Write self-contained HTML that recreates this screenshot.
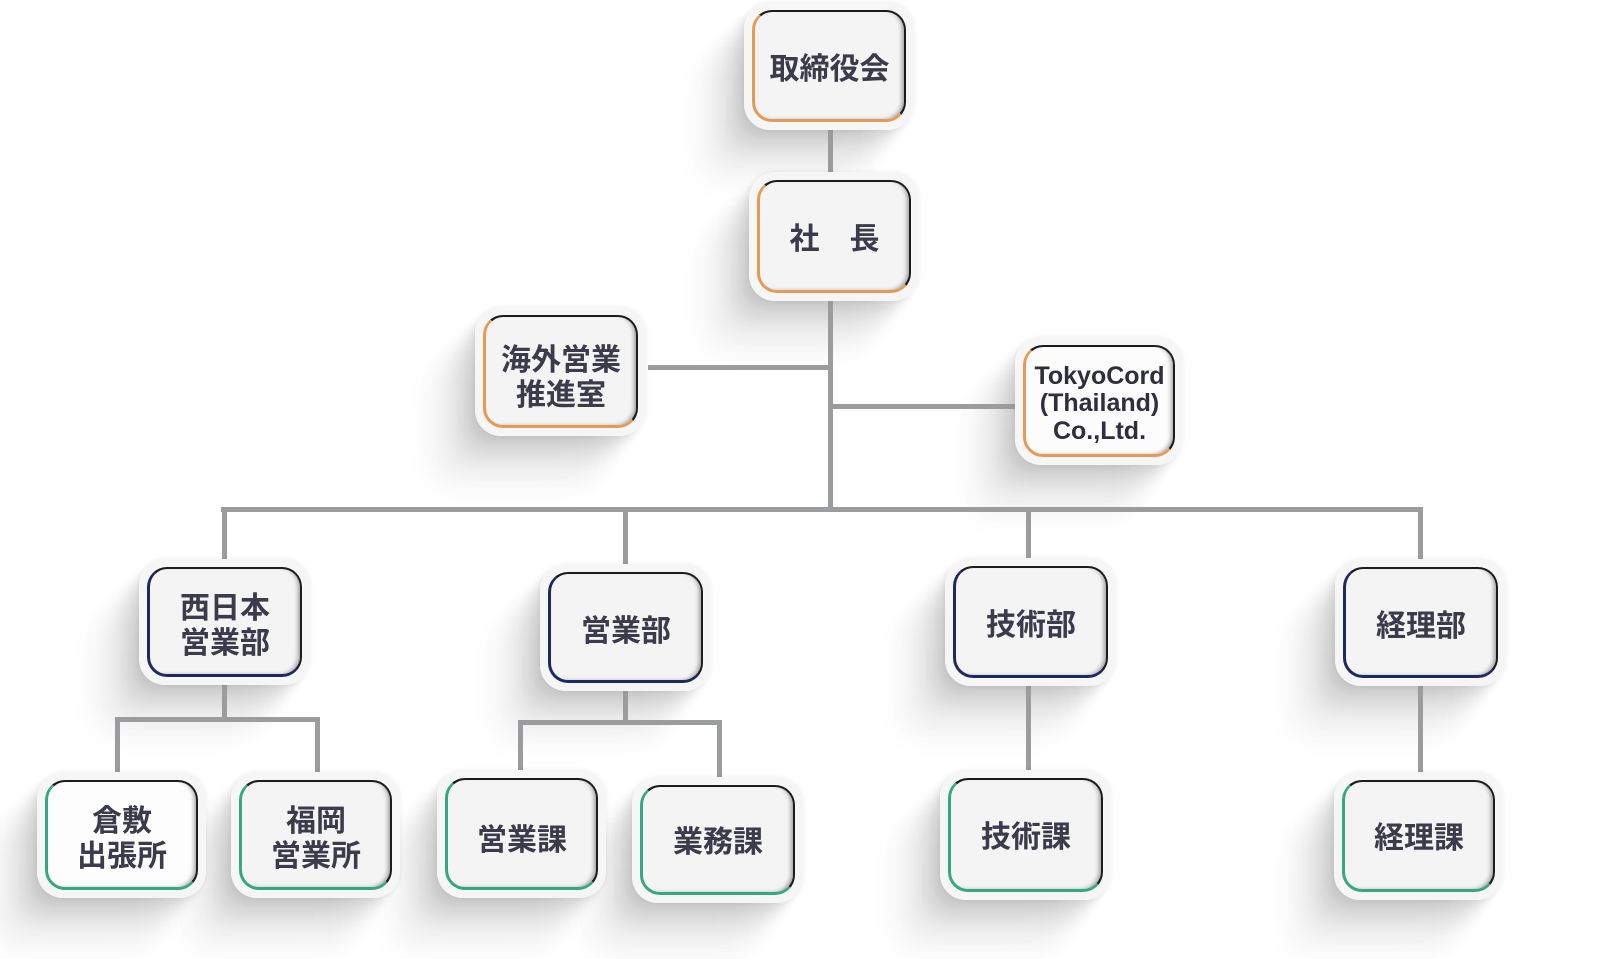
<!DOCTYPE html>
<html><head><meta charset="utf-8">
<style>
html,body{margin:0;padding:0;background:#fff;}
body{width:1599px;height:959px;position:relative;overflow:hidden;font-family:"Liberation Sans","Noto Sans CJK JP",sans-serif;}
.sh{position:absolute;border-radius:26px;background:transparent;z-index:0;
 box-shadow:-6px 7px 8px rgba(0,0,0,.05),-13px 15px 12px rgba(0,0,0,.045),-21px 24px 16px rgba(0,0,0,.04),-30px 34px 20px rgba(0,0,0,.035),-40px 46px 24px rgba(0,0,0,.03),-52px 58px 28px rgba(0,0,0,.022);}
.o{position:absolute;border-radius:26px;background:#f6f6f6;z-index:2;box-shadow:0 0 5px rgba(0,0,0,.07);}
.i{position:absolute;left:8px;top:8px;right:8px;bottom:8px;box-sizing:border-box;border-radius:20px;background:#f4f4f4;border:3px solid;border-top-width:2.5px;border-right-width:2.5px;
 display:flex;align-items:center;justify-content:center;text-align:center;color:#3b3b4b;font-weight:700;font-size:30px;line-height:35px;
 box-shadow:inset -4px -1px 4px -2px rgba(0,0,0,.35);padding-top:2px;}
.or{border-color:#1c1c1c #1c1c1c #e79a55 #e79a55;}
.nv{border-color:#1c1c1c #1c1c1c #1f2960 #1f2960;}
.tl{border-color:#1c1c1c #1c1c1c #35a784 #35a784;}
.l{position:absolute;background:#9a9c9d;z-index:1;}
.t{font-family:"Noto Sans CJK JP","Liberation Sans",sans-serif;}
</style></head><body>

<!-- connectors -->
<div class="l" style="left:828px;top:126px;width:5px;height:52px"></div>
<div class="l" style="left:828px;top:296px;width:5px;height:216px"></div>
<div class="l" style="left:648px;top:365px;width:182px;height:5px"></div>
<div class="l" style="left:830px;top:404px;width:185px;height:5px"></div>
<div class="l" style="left:221px;top:507px;width:1202px;height:5px"></div>
<div class="l" style="left:222px;top:507px;width:5px;height:54px"></div>
<div class="l" style="left:623px;top:507px;width:5px;height:59px"></div>
<div class="l" style="left:1026px;top:507px;width:5px;height:54px"></div>
<div class="l" style="left:1418px;top:507px;width:5px;height:54px"></div>

<div class="l" style="left:222px;top:682px;width:5px;height:40px"></div>
<div class="l" style="left:115px;top:717px;width:205px;height:5px"></div>
<div class="l" style="left:115px;top:717px;width:5px;height:56px"></div>
<div class="l" style="left:315px;top:717px;width:5px;height:56px"></div>

<div class="l" style="left:623px;top:688px;width:5px;height:37px"></div>
<div class="l" style="left:518px;top:720px;width:204px;height:5px"></div>
<div class="l" style="left:518px;top:720px;width:5px;height:52px"></div>
<div class="l" style="left:717px;top:720px;width:5px;height:58px"></div>

<div class="l" style="left:1026px;top:684px;width:5px;height:88px"></div>
<div class="l" style="left:1418px;top:684px;width:5px;height:88px"></div>

<!-- 取締役会 -->
<div class="sh" style="left:744px;top:2px;width:170px;height:128px"></div>
<div class="o" style="left:744px;top:2px;width:170px;height:128px"><div class="i or t">取締役会</div></div>

<!-- 社長 -->
<div class="sh" style="left:749px;top:172px;width:170px;height:129px"></div>
<div class="o" style="left:749px;top:172px;width:170px;height:129px"><div class="i or t" style="padding-top:0">社　長</div></div>

<!-- 海外 -->
<div class="sh" style="left:475px;top:307px;width:171px;height:129px"></div>
<div class="o" style="left:475px;top:307px;width:171px;height:129px"><div class="i or t" style="line-height:35px;padding-top:7px">海外営業<br>推進室</div></div>

<!-- Tokyo -->
<div class="sh" style="left:1015px;top:337px;width:168px;height:128px"></div>
<div class="o" style="left:1015px;top:337px;width:168px;height:128px"><div class="i or" style="background:#fcfcfc;font-family:'Liberation Sans',sans-serif;font-size:25px;line-height:27.5px;color:#2e2e3c;padding-top:7px">TokyoCord<br>(Thailand)<br>Co.,Ltd.</div></div>

<!-- 西日本 -->
<div class="sh" style="left:139px;top:559px;width:171px;height:126px"></div>
<div class="o" style="left:139px;top:559px;width:171px;height:126px"><div class="i nv t">西日本<br>営業部</div></div>

<!-- 営業部 -->
<div class="sh" style="left:540px;top:564px;width:171px;height:127px"></div>
<div class="o" style="left:540px;top:564px;width:171px;height:127px"><div class="i nv t">営業部</div></div>

<!-- 技術部 -->
<div class="sh" style="left:945px;top:558px;width:171px;height:128px"></div>
<div class="o" style="left:945px;top:558px;width:171px;height:128px"><div class="i nv t">技術部</div></div>

<!-- 経理部 -->
<div class="sh" style="left:1335px;top:559px;width:171px;height:127px"></div>
<div class="o" style="left:1335px;top:559px;width:171px;height:127px"><div class="i nv t">経理部</div></div>

<!-- 倉敷 -->
<div class="sh" style="left:37px;top:772px;width:169px;height:126px"></div>
<div class="o" style="left:37px;top:772px;width:169px;height:126px"><div class="i tl t" style="background:#fdfdfd">倉敷<br>出張所</div></div>

<!-- 福岡 -->
<div class="sh" style="left:231px;top:772px;width:169px;height:126px"></div>
<div class="o" style="left:231px;top:772px;width:169px;height:126px"><div class="i tl t">福岡<br>営業所</div></div>

<!-- 営業課 -->
<div class="sh" style="left:437px;top:770px;width:169px;height:128px"></div>
<div class="o" style="left:437px;top:770px;width:169px;height:128px"><div class="i tl t" style="padding-top:8px">営業課</div></div>

<!-- 業務課 -->
<div class="sh" style="left:632px;top:777px;width:171px;height:126px"></div>
<div class="o" style="left:632px;top:777px;width:171px;height:126px"><div class="i tl t" style="padding-top:0">業務課</div></div>

<!-- 技術課 -->
<div class="sh" style="left:940px;top:770px;width:171px;height:130px"></div>
<div class="o" style="left:940px;top:770px;width:171px;height:130px"><div class="i tl t" style="padding-top:0">技術課</div></div>

<!-- 経理課 -->
<div class="sh" style="left:1334px;top:772px;width:169px;height:128px"></div>
<div class="o" style="left:1334px;top:772px;width:169px;height:128px"><div class="i tl t" style="padding-top:0">経理課</div></div>

</body></html>
